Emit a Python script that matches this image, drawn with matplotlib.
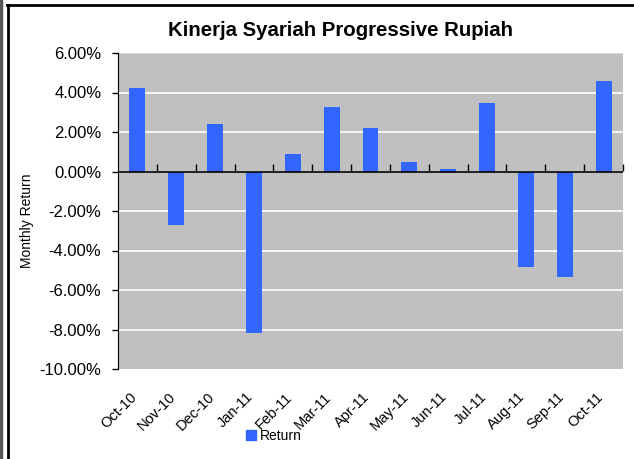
import matplotlib.pyplot as plt
import matplotlib.transforms as mtransforms
from matplotlib.lines import Line2D
from matplotlib.patches import Patch
from matplotlib.ticker import FuncFormatter
import numpy as np

plt.rcParams['font.family'] = ['Liberation Sans', 'DejaVu Sans']

months = ['Oct-10', 'Nov-10', 'Dec-10', 'Jan-11', 'Feb-11', 'Mar-11', 'Apr-11',
          'May-11', 'Jun-11', 'Jul-11', 'Aug-11', 'Sep-11', 'Oct-11']
returns = [4.23, -2.70, 2.40, -8.20, 0.87, 3.26, 2.19,
           0.46, 0.15, 3.46, -4.84, -5.35, 4.59]
y_ticks = [6, 4, 2, 0, -2, -4, -6, -8, -10]

fig = plt.figure(figsize=(6.34, 4.59), dpi=100)
ax = fig.add_axes([118 / 634, 1 - 369 / 459, (623 - 118) / 634, (369 - 53) / 459])
ax.set_facecolor('#c0c0c0')

x = np.arange(len(months))
ax.bar(x, returns, width=0.41, color='#3366ff', zorder=3)

ax.set_xlim(-0.5, len(months) - 0.5)
ax.set_ylim(-10, 6)
ax.set_yticks(y_ticks)
ax.yaxis.set_major_formatter(FuncFormatter(lambda v, p: f'{v:.2f}%'))
ax.tick_params(axis='y', labelsize=12, length=4.5, width=1, direction='out', pad=7.5)
for v in y_ticks:
    if v not in (-10, 0):
        ax.axhline(v, color='white' if v != 6 else '#dddddd', lw=1.2, zorder=1)

# category labels at the bottom, no tick marks there
ax.set_xticks(x)
ax.set_xticklabels(months, rotation=45, ha='right', rotation_mode='anchor', fontsize=10.5)
ax.tick_params(axis='x', length=0, pad=15)
shift = mtransforms.ScaledTranslation(-8 / 100, 0, fig.dpi_scale_trans)
for lbl in ax.get_xticklabels():
    lbl.set_transform(lbl.get_transform() + shift)

for s in ['top', 'right', 'bottom']:
    ax.spines[s].set_visible(False)
ax.spines['left'].set_color('black')

# zero line with category boundary ticks
ax.axhline(0, color='black', lw=1.2, zorder=4)
sec = ax.secondary_xaxis(10 / 16)
sec.set_xticks(np.arange(len(months)) + 0.5)
sec.set_xticklabels([])
sec.tick_params(axis='x', length=5, width=1, direction='out')
sec.spines['bottom'].set_visible(False)
sec.spines['top'].set_visible(False)

ax.set_ylabel('Monthly Return', fontsize=10)
ax.yaxis.set_label_coords((34 - 118) / 505, 0.47)

fig.text(341 / 634, 1 - 31 / 459, 'Kinerja Syariah Progressive Rupiah',
         ha='center', va='center', fontsize=14.7, fontweight='bold')

ax.legend(handles=[Patch(color='#3366ff', label='Return')], loc='center',
          bbox_to_anchor=(274 / 634, 1 - 436 / 459), bbox_transform=fig.transFigure,
          frameon=False, fontsize=10, handlelength=0.7, handleheight=0.7,
          handletextpad=0.3, borderpad=0)

# outer chart frame
fig.add_artist(Line2D([7.5 / 634, 7.5 / 634], [0, 1 - 5 / 459], color='black', lw=2,
                      transform=fig.transFigure))
fig.add_artist(Line2D([7 / 634, 1], [1 - 5 / 459, 1 - 5 / 459], color='black', lw=2,
                      transform=fig.transFigure))
fig.add_artist(Line2D([1 / 634, 1 / 634], [0, 1], color='#555555', lw=2.5,
                      transform=fig.transFigure))

fig.savefig('out.png', dpi=100)
